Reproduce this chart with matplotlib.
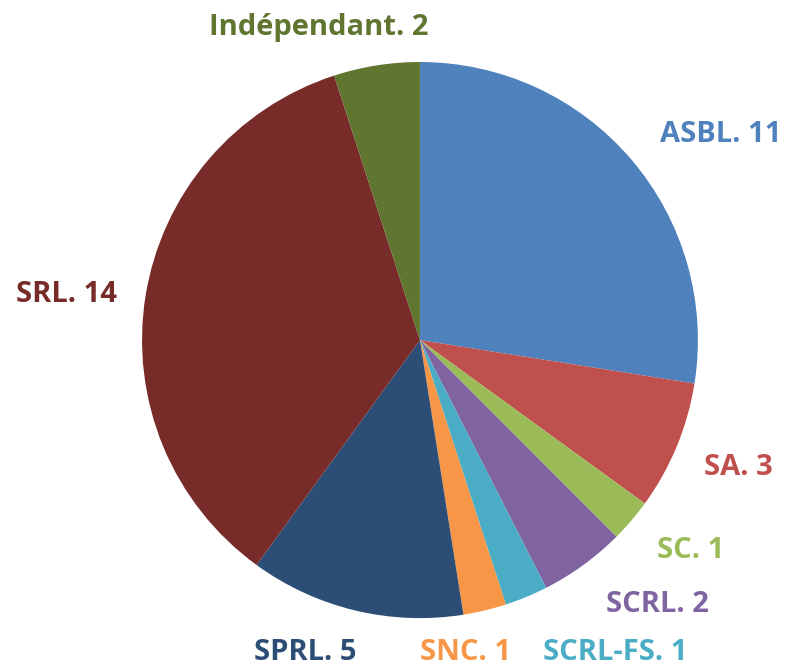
import matplotlib
matplotlib.use("Agg")
import matplotlib.pyplot as plt

# data
labels = ["ASBL", "SA", "SC", "SCRL", "SCRL-FS", "SNC", "SPRL", "SRL", "Indépendant"]
counts = [11, 3, 1, 2, 1, 1, 5, 14, 2]
colors = ["#4F81BD", "#C0504D", "#9BBB59", "#8064A2", "#4BACC6",
          "#F79646", "#2C4D75", "#772C2A", "#5F7530"]

# label positions (pie radius = 1), x centre / baseline
label_pos = [(1.083, 0.712), (1.144, -0.486), (0.975, -0.784), (0.853, -0.978),
             (0.701, -1.151), (0.165, -1.151), (-0.413, -1.151), (-1.273, 0.137),
             (-0.363, 1.097)]

plt.rcParams['font.family'] = ['Open Sans', 'DejaVu Sans']

fig = plt.figure(figsize=(7.86, 6.69), dpi=100)
ax = fig.add_axes([0, 0, 1, 1])
ax.pie(counts, colors=colors, startangle=90, counterclock=False,
       radius=1, center=(0, 0), frame=True)
ax.set_xlim(-1.511, 1.317)
ax.set_ylim(-1.183, 1.223)
ax.set_aspect('auto')
ax.axis('off')

for lab, n, c, (x, y) in zip(labels, counts, colors, label_pos):
    ax.text(x, y, f"{lab}. {n}", color=c, fontsize=21, fontweight='bold',
            ha='center', va='baseline')

fig.savefig("out.png", dpi=100)
